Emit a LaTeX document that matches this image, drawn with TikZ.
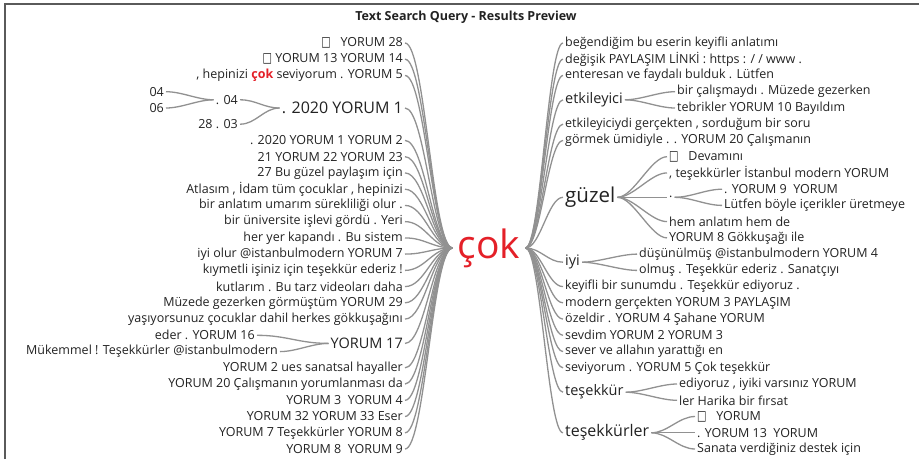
\documentclass[tikz,border=0pt]{standalone}
\usepackage{fontspec}
\setmainfont{Open Sans}
\newfontfamily\boxfont{DejaVu Sans}
\usetikzlibrary{positioning}
\definecolor{twiggray}{RGB}{145,145,145}
\definecolor{hitred}{RGB}{228,32,40}
\definecolor{inkgray}{RGB}{34,34,34}
\definecolor{framegray}{RGB}{90,90,90}
\newcommand{\nobox}{{\boxfont\scalebox{0.8}[1.1]{□}}}
\newcommand{\hit}[1]{\textcolor{hitred}{\bfseries #1}}

\begin{document}
\begin{tikzpicture}[
    x=1pt, y=-1pt,
    leaf/.style={inner xsep=2pt, inner ysep=0pt, text=inkgray,
      font=\fontsize{12.5}{14}\selectfont},
    fork/.style={leaf, font=\fontsize{14.5}{16}\selectfont},
    bigfork/.style={leaf, font=\fontsize{16}{18}\selectfont},
    root/.style={inner xsep=5pt, inner ysep=0pt, text=hitred,
      font=\fontsize{39}{41}\selectfont},
    twig/.style={draw=twiggray, line width=1.3pt,
      to path={(\tikztostart.east) .. controls +(#1,0) and +(-#1,0) .. (\tikztotarget.west)}},
    twig/.default=16]
  \useasboundingbox (0,0) rectangle (919,459);
  \draw[framegray, line width=1.2pt] (5,459) -- (5,4) -- (919,4);
  \node[font=\bfseries\fontsize{12.5}{14}\selectfont, text=inkgray] (title) at (466,17)
    {Text Search Query - Results Preview};

  % root word
  \node[root] (cok) at (489,248) {çok};

  % left side
  \node[leaf, anchor=east] (l0) at (405,43.0) {\nobox\ \ \ YORUM 28};
  \node[leaf, anchor=east] (l1) at (405,59.2) {\nobox\ YORUM 13 YORUM 14};
  \node[leaf, anchor=east] (l2) at (405,75.5) {, hepinizi \hit{çok} seviyorum . YORUM 5};
  \node[bigfork, anchor=east] (l3) at (405,108.0) {. 2020 YORUM 1};
  \node[leaf, anchor=east] (l3a) at (240,99.8) {. 04};
  \node[leaf, anchor=east] (l3b) at (240,124.2) {28 . 03};
  \node[leaf, anchor=east] (l3a1) at (166,91.7) {04};
  \node[leaf, anchor=east] (l3a2) at (166,108.0) {06};
  \node[leaf, anchor=east] (l4) at (405,140.4) {. 2020 YORUM 1 YORUM 2};
  \node[leaf, anchor=east] (l5) at (405,156.7) {21 YORUM 22 YORUM 23};
  \node[leaf, anchor=east] (l6) at (405,172.9) {27 Bu güzel paylaşım için};
  \node[leaf, anchor=east] (l7) at (405,189.2) {Atlasım , İdam tüm çocuklar , hepinizi};
  \node[leaf, anchor=east] (l8) at (405,205.4) {bir anlatım umarım sürekliliği olur .};
  \node[leaf, anchor=east] (l9) at (405,221.6) {bir üniversite işlevi gördü . Yeri};
  \node[leaf, anchor=east] (l10) at (405,237.9) {her yer kapandı . Bu sistem};
  \node[leaf, anchor=east] (l11) at (405,254.1) {iyi olur @istanbulmodern YORUM 7};
  \node[leaf, anchor=east] (l12) at (405,270.4) {kıymetli işiniz için teşekkür ederiz !};
  \node[leaf, anchor=east] (l13) at (405,286.6) {kutlarım . Bu tarz videoları daha};
  \node[leaf, anchor=east] (l14) at (405,302.8) {Müzede gezerken görmüştüm YORUM 29};
  \node[leaf, anchor=east] (l15) at (405,319.1) {yaşıyorsunuz çocuklar dahil herkes gökkuşağını};
  \node[fork, anchor=east] (l16) at (405,343.4) {YORUM 17};
  \node[leaf, anchor=east] (l16a) at (257,335.3) {eder . YORUM 16};
  \node[leaf, anchor=east] (l16b) at (280,351.6) {Mükemmel ! Teşekkürler @istanbulmodern};
  \node[leaf, anchor=east] (l17) at (405,367.8) {YORUM 2 ues sanatsal hayaller};
  \node[leaf, anchor=east] (l18) at (405,384.0) {YORUM 20 Çalışmanın yorumlanması da};
  \node[leaf, anchor=east] (l19) at (405,400.3) {YORUM 3\ \ YORUM 4};
  \node[leaf, anchor=east] (l20) at (405,416.5) {YORUM 32 YORUM 33 Eser};
  \node[leaf, anchor=east] (l21) at (405,432.8) {YORUM 7 Teşekkürler YORUM 8};
  \node[leaf, anchor=east] (l22) at (405,449.0) {YORUM 8\ \ YORUM 9};

  % right side
  \node[leaf, anchor=west] (r0) at (563,43.0) {beğendiğim bu eserin keyifli anlatımı};
  \node[leaf, anchor=west] (r1) at (563,59.2) {değişik PAYLAŞIM LİNKİ : https : / / www .};
  \node[leaf, anchor=west] (r2) at (563,75.5) {enteresan ve faydalı bulduk . Lütfen};
  \node[fork, anchor=west] (r3) at (563,99.8) {etkileyici};
  \node[leaf, anchor=west] (r3a) at (675,91.7) {bir çalışmaydı . Müzede gezerken};
  \node[leaf, anchor=west] (r3b) at (675,108.0) {tebrikler YORUM 10 Bayıldım};
  \node[leaf, anchor=west] (r4) at (563,124.2) {etkileyiciydi gerçekten , sorduğum bir soru};
  \node[leaf, anchor=west] (r5) at (563,140.4) {görmek ümidiyle . . YORUM 20 Çalışmanın};
  \node[leaf, font=\fontsize{20.5}{22}\selectfont, anchor=west] (r6) at (563,197.3) {güzel};
  \node[leaf, anchor=west] (r6a) at (667,156.7) {\nobox\ \ \ Devamını};
  \node[leaf, anchor=west] (r6b) at (667,172.9) {, teşekkürler İstanbul modern YORUM};
  \node[leaf, anchor=west] (r6c) at (667,197.3) {.};
  \node[leaf, anchor=west] (r6c1) at (722,189.2) {. YORUM 9\ \ YORUM};
  \node[leaf, anchor=west] (r6c2) at (722,205.4) {Lütfen böyle içerikler üretmeye};
  \node[leaf, anchor=west] (r6d) at (667,221.6) {hem anlatım hem de};
  \node[leaf, anchor=west] (r6e) at (667,237.9) {YORUM 8 Gökkuşağı ile};
  \node[fork, anchor=west] (r7) at (563,262.2) {iyi};
  \node[leaf, anchor=west] (r7a) at (637,254.1) {düşünülmüş @istanbulmodern YORUM 4};
  \node[leaf, anchor=west] (r7b) at (637,270.4) {olmuş . Teşekkür ederiz . Sanatçıyı};
  \node[leaf, anchor=west] (r8) at (563,286.6) {keyifli bir sunumdu . Teşekkür ediyoruz .};
  \node[leaf, anchor=west] (r9) at (563,302.8) {modern gerçekten YORUM 3 PAYLAŞIM};
  \node[leaf, anchor=west] (r10) at (563,319.1) {özeldir . YORUM 4 Şahane YORUM};
  \node[leaf, anchor=west] (r11) at (563,335.3) {sevdim YORUM 2 YORUM 3};
  \node[leaf, anchor=west] (r12) at (563,351.6) {sever ve allahın yarattığı en};
  \node[leaf, anchor=west] (r13) at (563,367.8) {seviyorum . YORUM 5 Çok teşekkür};
  \node[fork, anchor=west] (r14) at (563,392.2) {teşekkür};
  \node[leaf, anchor=west] (r14a) at (677,384.0) {ediyoruz , iyiki varsınız YORUM};
  \node[leaf, anchor=west] (r14b) at (677,400.3) {ler Harika bir fırsat};
  \node[bigfork, anchor=west] (r15) at (563,432.8) {teşekkürler};
  \node[leaf, anchor=west] (r15a) at (695,416.5) {\nobox\ \ \ YORUM};
  \node[leaf, anchor=west] (r15b) at (695,432.8) {. YORUM 13\ \ YORUM};
  \node[leaf, anchor=west] (r15c) at (695,449.0) {Sanata verdiğiniz destek için};

  % connectors into the root
  \foreach \n in {l0,l1,l2,l3,l4,l5,l6,l7,l8,l9,l10,l11,l12,l13,l14,l15,l16,l17,l18,l19,l20,l21,l22}
    \path (\n) edge[twig=20] (cok);
  \foreach \n in {r0,r1,r2,r3,r4,r5,r6,r7,r8,r9,r10,r11,r12,r13,r14,r15}
    \path (cok) edge[twig=15] (\n);

  % sub-branches
  \path
    (l3a1) edge[twig] (l3a)
    (l3a2) edge[twig] (l3a)
    (l3a)  edge[twig] (l3)
    (l3b)  edge[twig] (l3)
    (l16a) edge[twig=30] (l16)
    (l16b) edge[twig] (l16)
    (r3) edge[twig] (r3a)
         edge[twig] (r3b)
    (r6) edge[twig] (r6a)
         edge[twig] (r6b)
         edge[twig] (r6c)
         edge[twig] (r6d)
         edge[twig] (r6e)
    (r6c) edge[twig] (r6c1)
          edge[twig] (r6c2)
    (r7) edge[twig] (r7a)
         edge[twig] (r7b)
    (r14) edge[twig] (r14a)
          edge[twig] (r14b)
    (r15) edge[twig] (r15a)
          edge[twig] (r15b)
          edge[twig] (r15c)
    ;
\end{tikzpicture}
\end{document}
